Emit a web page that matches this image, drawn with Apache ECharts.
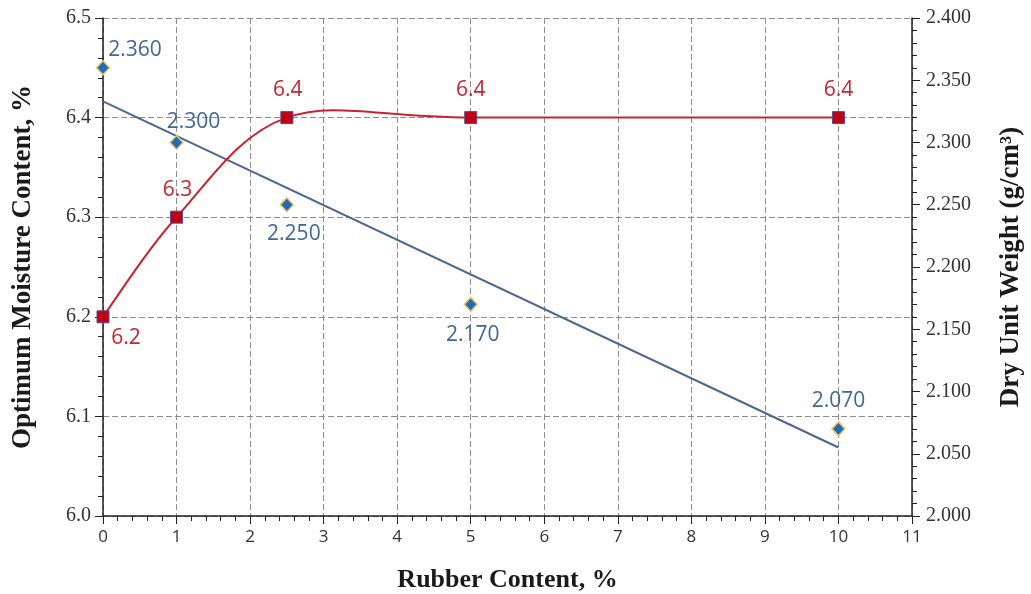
<!DOCTYPE html>
<html><head><meta charset="utf-8">
<script src="https://cdn.jsdelivr.net/npm/echarts@6/dist/echarts.min.js"></script>
<style>html,body{margin:0;padding:0;background:#fff}#c{width:1031px;height:594px}</style>
</head><body><div id="c"></div>
<script>
var rubber = [0, 1, 2.5, 5, 10];
var moisture = [6.2, 6.3, 6.4, 6.4, 6.4];
var dryWeight = [2.360, 2.300, 2.250, 2.170, 2.070];
var trendX = [0, 10];
var trendY = [2.333, 2.055];
var xTicks = [0,1,2,3,4,5,6,7,8,9,10,11];

// label placement (offset of label centre from the marker)
var moistLabelOff = [[23,21],[1,-27],[1,-28],[0,-28],[0,-28]];
var dryLabelOff = [[32,-18],[17,-20],[7,29],[2,31],[0,-28]];

var serif = 'Liberation Serif';
var sans = 'Open Sans';
var RED = '#c42530';

function splineItem(params, api) {
  var i = params.dataIndex;
  if (i >= rubber.length - 1) return null;
  var P = function(k){
    k = Math.max(0, Math.min(rubber.length - 1, k));
    return api.coord([rubber[k], moisture[k]]);
  };
  var p0 = P(i-1), p1 = P(i), p2 = P(i+1), p3 = P(i+2);
  var t = 1/6;
  var c1 = [p1[0] + (p2[0]-p0[0])*t, p1[1] + (p2[1]-p0[1])*t];
  var c2 = [p2[0] - (p3[0]-p1[0])*t, p2[1] - (p3[1]-p1[1])*t];
  return {
    type:'bezierCurve',
    shape:{x1:p1[0], y1:p1[1], x2:p2[0], y2:p2[1], cpx1:c1[0], cpy1:c1[1], cpx2:c2[0], cpy2:c2[1]},
    style:{stroke:RED, lineWidth:2, fill:null}
  };
}

var chart = echarts.init(document.getElementById('c'));
chart.setOption({
  animation:false,
  grid:{left:103, right:119, top:18, bottom:78, containLabel:false, outerBoundsMode:'none'},
  xAxis:{
    type:'value', min:0, max:11, interval:1,
    name:'Rubber Content, %', nameLocation:'middle', nameGap:51,
    nameTextStyle:{fontFamily:serif, fontWeight:'bold', fontSize:26, color:'#1a1a1a'},
    axisLine:{lineStyle:{color:'#222', width:1.5}},
    axisTick:{show:true, length:8, lineStyle:{color:'#222'}},
    minorTick:{show:true, splitNumber:5, length:5, lineStyle:{color:'#222'}},
    axisLabel:{fontFamily:sans, fontSize:17, color:'#333', margin:13,
      formatter:function(v){return xTicks.indexOf(v)>=0 ? String(v) : '';}},
    splitLine:{show:true, lineStyle:{color:'#8c8c8c', type:[6,3], width:1}}
  },
  yAxis:[{
    type:'value', min:6.0, max:6.5, interval:0.1,
    name:'Optimum Moisture Content, %', nameLocation:'middle', nameGap:66,
    nameTextStyle:{fontFamily:serif, fontWeight:'bold', fontSize:27, color:'#1a1a1a'},
    axisLine:{show:true, lineStyle:{color:'#222', width:1.5}},
    axisTick:{show:true, length:8, lineStyle:{color:'#222'}},
    minorTick:{show:true, splitNumber:5, length:5, lineStyle:{color:'#222'}},
    axisLabel:{fontFamily:serif, fontSize:20, color:'#333', margin:12,
      formatter:function(v){return v.toFixed(1);}},
    splitLine:{show:true, lineStyle:{color:'#8c8c8c', type:[6,3], width:1}}
  },{
    type:'value', min:2.0, max:2.4, interval:0.05,
    name:'Dry Unit Weight (g/cm³)', nameLocation:'middle', nameGap:86, nameRotate:90,
    nameTextStyle:{fontFamily:serif, fontWeight:'bold', fontSize:27, color:'#1a1a1a'},
    axisLine:{show:true, lineStyle:{color:'#222', width:1.5}},
    axisTick:{show:true, length:8, lineStyle:{color:'#222'}},
    minorTick:{show:true, splitNumber:5, length:5, lineStyle:{color:'#222'}},
    axisLabel:{fontFamily:serif, fontSize:20, color:'#333', margin:14,
      formatter:function(v){return v.toFixed(3);}},
    splitLine:{show:false}
  }],
  series:[{
    type:'line', yAxisIndex:1, data:trendX.map(function(x,i){return [x,trendY[i]];}),
    showSymbol:false, symbol:'none', lineStyle:{color:'#4a6891', width:2}, z:2
  },{
    type:'custom', yAxisIndex:0, renderItem:splineItem,
    data:rubber.map(function(x,i){return [x,moisture[i]];}), z:3, silent:true
  },{
    type:'scatter', yAxisIndex:0,
    data:rubber.map(function(x,i){return {value:[x,moisture[i]],
      label:{position:'inside', offset:moistLabelOff[i]}};}),
    symbol:'rect', symbolSize:12,
    itemStyle:{color:'#c00014', borderColor:'#5b4a8a', borderWidth:1, opacity:1},
    label:{show:true, fontFamily:sans, fontSize:21, color:RED,
      formatter:function(p){return p.value[1].toFixed(1);}},
    z:4
  },{
    type:'scatter', yAxisIndex:1,
    data:rubber.map(function(x,i){return {value:[x,dryWeight[i]],
      label:{position:'inside', offset:dryLabelOff[i]}};}),
    symbol:'diamond', symbolSize:[13,14],
    itemStyle:{color:'#1a6fbd', borderColor:'#f2c463', borderWidth:1.5, opacity:1},
    label:{show:true, fontFamily:sans, fontSize:21, color:'#3e6898',
      formatter:function(p){return p.value[1].toFixed(3);}},
    z:5
  }]
});
</script></body></html>
